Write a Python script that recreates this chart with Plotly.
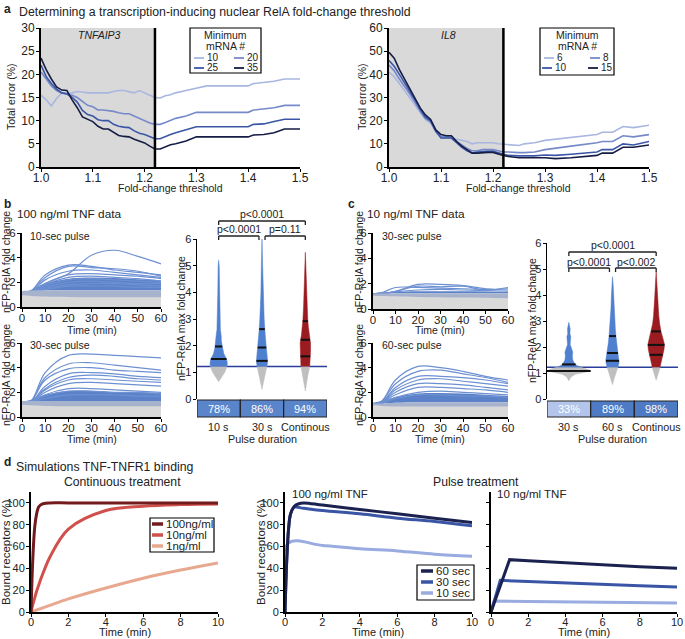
import numpy as np
import plotly.graph_objects as go

W, H = 685, 639
FONT = "Liberation Sans, Arial, sans-serif"

# ---------------- panel a data ----------------
fc_x = [1.00, 1.01, 1.02, 1.03, 1.04, 1.05, 1.06, 1.07, 1.08, 1.09, 1.10, 1.11, 1.12, 1.13, 1.14, 1.15,
        1.16, 1.17, 1.18, 1.19, 1.20, 1.21, 1.22, 1.23, 1.24, 1.25, 1.26, 1.28, 1.30, 1.32, 1.35, 1.40,
        1.41, 1.43, 1.45, 1.47, 1.50]
tnf_10 = [15.5, 14.5, 13.2, 14.8, 16.0, 15.8, 16.0, 16.3, 16.2, 16.0, 16.0, 16.0, 16.0, 16.0, 16.3, 16.5,
          16.5, 16.3, 16.0, 16.5, 16.0, 15.5, 15.0, 14.9, 15.4, 15.6, 16.0, 16.5, 17.0, 17.5, 17.5, 17.5,
          18.0, 18.2, 18.5, 19.0, 19.0]
tnf_20 = [20.5, 19.0, 17.5, 16.5, 16.0, 15.7, 15.5, 15.0, 14.2, 13.3, 13.0, 12.3, 12.3, 12.2, 12.0, 11.7,
          11.5, 11.5, 11.0, 10.5, 10.0, 9.5, 9.2, 9.2, 9.6, 10.0, 10.5, 11.0, 11.8, 11.8, 11.8, 11.8,
          12.3, 12.5, 12.8, 13.3, 13.3]
tnf_25 = [22.0, 19.5, 18.0, 16.8, 16.0, 15.8, 15.0, 14.0, 12.2, 11.3, 11.0, 10.2, 10.0, 10.0, 9.2, 8.8,
          8.6, 8.5, 7.8, 7.3, 7.0, 6.5, 6.1, 6.1, 6.6, 7.0, 7.4, 8.0, 8.7, 8.7, 8.7, 8.7,
          9.2, 9.3, 9.8, 10.3, 10.3]
tnf_35 = [23.5, 21.0, 19.0, 17.3, 16.6, 16.5, 14.5, 12.8, 10.8, 10.3, 9.8, 8.8, 8.2, 8.2, 7.5, 6.8,
          6.6, 6.5, 6.0, 5.6, 5.2, 4.5, 3.9, 3.9, 4.4, 4.8, 5.0, 5.6, 6.5, 6.5, 6.5, 6.5,
          6.9, 7.0, 7.4, 8.2, 8.2]
il8_6 = [41, 39, 36, 33, 30, 27, 23.5, 20.5, 19, 15, 12.5, 12.5, 12.5, 12, 11.5, 11,
         10, 10.5, 10.5, 10.5, 10.5, 10, 9.8, 9.5, 9.2, 9.3, 10, 10.5, 11.5, 12, 13, 14,
         15, 15, 17.5, 17, 18]
il8_8 = [44, 41.5, 38, 35, 31.5, 28, 24, 21, 19.5, 15.5, 13, 13, 13, 11, 9.5, 8,
         7, 7, 7.5, 7.5, 7.5, 7, 6.5, 6.5, 6.2, 6.2, 6.2, 6.5, 7.5, 8, 9, 10.5,
         11, 11, 13.5, 13, 14]
il8_10 = [46, 43.5, 40, 36.5, 32.5, 29, 25, 21.5, 20, 15.5, 12.5, 12.5, 12.5, 10.5, 8.5, 7,
          6, 6.5, 6.8, 6.8, 6.8, 6, 5.5, 5, 4.8, 4.8, 4.8, 4.8, 5.2, 5, 5.5, 6.5,
          7.5, 7.5, 10, 9.5, 11]
il8_15 = [49.5, 47, 42, 38, 34, 30, 25.5, 22.5, 20.5, 16, 14, 13.5, 13.5, 11, 9, 7.5,
          6, 6, 6.3, 6.3, 6.3, 5.5, 5, 4.5, 4.2, 4, 4, 4, 4, 3.6, 4, 5,
          6, 6, 8.5, 8.5, 9.5]
tnf_labels = ["10", "20", "25", "35"]
il8_labels = ["6", "8", "10", "15"]
BLUES4 = ["#a9b7e0", "#7689c9", "#3c56a6", "#161d45"]
THR = 1.22

# ---------------- panels b, c time courses ----------------
T = [0, 4, 10, 20, 30, 40, 50, 60]
b10_traces = [
    [1.0, 1.3, 1.9, 2.7, 4.2, 4.6, 4.1, 3.5],
    [1.0, 1.3, 2.6, 3.4, 3.3, 3.0, 2.8, 2.6],
    [1.0, 1.3, 2.4, 3.3, 3.2, 3.1, 2.9, 2.5],
    [1.0, 1.2, 2.2, 2.9, 3.0, 2.8, 2.6, 2.4],
    [1.0, 1.2, 1.9, 2.6, 2.7, 2.6, 2.5, 2.3],
    [1.0, 1.2, 1.8, 2.4, 2.5, 2.4, 2.3, 2.1],
    [1.0, 1.2, 1.7, 2.2, 2.3, 2.2, 2.1, 2.0],
    [1.0, 1.2, 1.6, 2.0, 2.1, 2.0, 1.9, 1.9],
    [1.0, 1.2, 1.5, 1.8, 1.9, 1.9, 1.8, 1.7],
    [1.0, 1.2, 1.4, 1.7, 1.7, 1.7, 1.6, 1.6],
]
b30_traces = [
    [1.0, 1.3, 3.6, 5.0, 5.1, 5.0, 4.9, 4.8],
    [1.0, 1.3, 3.2, 4.3, 4.4, 4.2, 4.0, 3.8],
    [1.0, 1.3, 3.0, 3.9, 4.0, 3.8, 3.7, 3.6],
    [1.0, 1.2, 2.5, 3.5, 3.6, 3.5, 3.3, 3.2],
    [1.0, 1.2, 2.3, 3.2, 3.4, 3.3, 3.1, 3.0],
    [1.0, 1.2, 2.2, 3.0, 3.1, 3.0, 2.9, 2.8],
    [1.0, 1.2, 2.0, 2.7, 2.8, 2.7, 2.6, 2.5],
    [1.0, 1.2, 1.8, 2.3, 2.3, 2.2, 2.1, 2.0],
    [1.0, 1.2, 1.7, 2.1, 2.1, 2.0, 2.0, 1.9],
    [1.0, 1.2, 1.5, 1.8, 1.8, 1.8, 1.7, 1.7],
]
c30_traces = [
    [1.2, 1.3, 1.7, 1.7, 1.65, 1.6, 1.55, 1.6],
    [1.2, 1.25, 1.4, 1.95, 1.95, 1.85, 1.6, 1.5],
    [1.2, 1.2, 1.4, 1.8, 1.75, 1.8, 1.5, 1.7],
    [1.2, 1.2, 1.35, 1.5, 1.55, 1.5, 1.45, 1.4],
]
c60_traces = [
    [1.0, 1.3, 3.0, 4.1, 4.0, 3.7, 3.3, 3.0],
    [1.0, 1.3, 2.7, 3.7, 3.8, 3.5, 3.2, 2.8],
    [1.0, 1.2, 2.4, 3.3, 3.3, 3.2, 3.0, 2.7],
    [1.0, 1.2, 2.2, 3.0, 3.1, 2.9, 2.7, 2.5],
    [1.0, 1.2, 2.0, 2.7, 2.7, 2.6, 2.4, 2.2],
    [1.0, 1.2, 1.8, 2.4, 2.4, 2.3, 2.2, 2.0],
    [1.0, 1.2, 1.6, 2.0, 2.1, 2.0, 1.9, 1.8],
    [1.0, 1.1, 1.5, 1.8, 1.8, 1.7, 1.7, 1.6],
]
# envelopes (gray non-responders, blue-gray band, dense responder mass)
b10_gray = [0.95, 0.9, 0.85, 0.82, 0.8, 0.8, 0.8, 0.8]
b10_band = [1.3, 1.33, 1.35, 1.35, 1.35, 1.35, 1.35, 1.35]
b10_dense = [1.25, 1.4, 1.9, 2.3, 2.4, 2.35, 2.25, 2.15]
b30_gray = [1.0, 0.95, 0.9, 0.88, 0.88, 0.88, 0.88, 0.88]
b30_band = [1.3, 1.3, 1.3, 1.3, 1.3, 1.3, 1.3, 1.3]
b30_dense = [1.25, 1.4, 1.8, 2.1, 2.1, 2.0, 2.0, 1.9]
c30_gray = [1.05, 1.02, 1.0, 0.95, 0.92, 0.9, 0.88, 0.85]
c30_band = [1.2, 1.22, 1.25, 1.25, 1.25, 1.25, 1.25, 1.25]
c30_dense = [1.25, 1.3, 1.35, 1.4, 1.4, 1.4, 1.38, 1.35]
c60_gray = [0.95, 0.9, 0.85, 0.85, 0.85, 0.85, 0.85, 0.85]
c60_band = [1.1, 1.1, 1.15, 1.2, 1.2, 1.2, 1.2, 1.2]
c60_dense = [1.15, 1.3, 1.6, 1.9, 1.95, 1.9, 1.8, 1.7]

# ---------------- violin profiles (y level, half width) ----------------
b_cats = ["10 s", "30 s", "Continous"]
b_pct = ["78%", "86%", "94%"]
vb1_y = [0.65, 0.8, 1.0, 1.2, 1.35, 1.5, 1.7, 1.9, 2.0, 2.2, 2.35, 2.6, 3.0, 4.0, 5.0, 5.2]
vb1_w = [0, 0.06, 0.14, 0.19, 0.2, 0.18, 0.12, 0.09, 0.08, 0.06, 0.06, 0.04, 0.03, 0.02, 0.012, 0]
vb1_q = [1.5, 1.97]
vb2_y = [0.36, 0.6, 0.9, 1.2, 1.4, 1.6, 1.9, 2.2, 2.6, 3.0, 3.5, 4.0, 5.0, 6.0]
vb2_w = [0, 0.03, 0.07, 0.11, 0.13, 0.12, 0.1, 0.08, 0.065, 0.05, 0.035, 0.025, 0.015, 0]
vb2_q = [1.43, 1.93, 2.62]
vb3_y = [0.3, 0.6, 0.9, 1.2, 1.5, 1.8, 2.1, 2.4, 2.7, 3.0, 3.5, 4.0, 4.5, 5.0, 5.5]
vb3_w = [0, 0.03, 0.06, 0.1, 0.11, 0.12, 0.12, 0.09, 0.07, 0.055, 0.04, 0.03, 0.02, 0.012, 0]
vb3_q = [1.6, 2.22, 2.92]
c_cats = ["30 s", "60 s", "Continous"]
c_pct = ["33%", "89%", "98%"]
vc1_y = [0.7, 0.85, 0.95, 1.02, 1.08, 1.13, 1.2, 1.3, 1.4, 1.5, 1.65, 1.8, 1.95, 2.1, 2.3, 2.4, 2.5, 2.7, 2.95]
vc1_w = [0, 0.05, 0.15, 0.35, 0.5, 0.45, 0.3, 0.17, 0.12, 0.09, 0.08, 0.09, 0.06, 0.03, 0.04, 0.045, 0.025, 0.03, 0]
vc1_q = [1.08, 1.33]
vc2_y = [0.55, 0.8, 1.0, 1.2, 1.4, 1.55, 1.8, 2.1, 2.4, 2.7, 3.0, 3.5, 4.0, 4.4, 4.7]
vc2_w = [0, 0.04, 0.08, 0.12, 0.15, 0.15, 0.12, 0.1, 0.08, 0.065, 0.05, 0.035, 0.025, 0.015, 0]
vc2_q = [1.47, 1.77, 2.42]
vc3_y = [0.72, 0.9, 1.1, 1.3, 1.5, 1.7, 1.9, 2.1, 2.3, 2.6, 2.9, 3.2, 3.6, 4.0, 4.5, 4.9]
vc3_w = [0, 0.04, 0.07, 0.1, 0.13, 0.15, 0.18, 0.19, 0.16, 0.11, 0.08, 0.06, 0.04, 0.03, 0.015, 0]
vc3_q = [1.7, 2.08, 2.6]

# ---------------- panel d simulations ----------------
d_t = [0, 0.1, 0.2, 0.3, 0.4, 0.5, 0.7, 1, 2, 4, 6, 8, 10]
d_100 = [0, 50, 78, 90, 96, 98, 99.5, 100, 100, 100, 100, 100, 100]
d_10 = [0, 7, 13, 19, 24, 29, 38, 50, 76, 93, 97, 98.5, 99]
d_1 = [0, 0.6, 1.2, 1.8, 2.4, 3, 4.2, 6, 12, 22, 31, 38.5, 45]
cont_labels = ["100ng/ml", "10ng/ml", "1ng/ml"]
REDS = ["#741b1e", "#d0514c", "#e8a890"]
p100_t60 = [0, 0.1, 0.2, 0.3, 0.5, 0.7, 1, 2, 4, 6, 8, 10]
p100_60 = [0, 50, 78, 90, 97, 99, 100, 98, 94, 90, 86, 82]
p100_t30 = [0, 0.1, 0.2, 0.3, 0.5, 1, 2, 4, 6, 8, 10]
p100_30 = [0, 50, 78, 90, 96, 95, 93, 90, 86, 83, 79]
p100_t10 = [0, 0.17, 2, 4, 6, 8, 10]
p100_10 = [0, 63, 61, 58, 56, 53, 51]
p10_t60 = [0, 1, 2, 4, 6, 8, 10]
p10_60 = [0, 48, 47, 45, 43, 41.5, 40]
p10_t30 = [0, 0.5, 2, 4, 6, 8, 10]
p10_30 = [0, 29, 28, 26.5, 25, 24, 23]
p10_t10 = [0, 0.17, 2, 4, 6, 8, 10]
p10_10 = [0, 10, 9.7, 9.3, 9, 8.6, 8.3]
pulse_labels = ["60 sec", "30 sec", "10 sec"]
PBLUES = ["#1b2250", "#3a55a6", "#9aabe0"]

VBLUE = "#4f7fcf"
VRED = "#9a1c20"
VGRAY = "#bfbfbf"
TRACE = "#6d90d2"

fig = go.Figure()


def ref(i):
    return ("x", "y") if i == 1 else (f"x{i}", f"y{i}")


def px(x):
    return x / W


def py(y):
    return 1 - y / H


axes = {}


def add_axes(i, xd, yd, xr, yr, xk=None, yk=None, lw=1.5, tsize=12):
    xk = xk or {}
    yk = yk or {}
    xa, ya = ref(i)
    base = dict(showgrid=False, zeroline=False, showline=True, linecolor="black", linewidth=lw,
                ticks="outside", ticklen=3, tickwidth=1, tickcolor="black", automargin=False,
                tickfont=dict(family=FONT, size=tsize, color="#222"))
    xd_ = dict(base, domain=[px(xd[0]), px(xd[1])], range=xr, anchor=ya, ticklabelstandoff=-4)
    xd_.update(xk)
    yd_ = dict(base, domain=[py(yd[1]), py(yd[0])], range=yr, anchor=xa, ticklabelstandoff=-1)
    yd_.update(yk)
    axes["xaxis" if i == 1 else f"xaxis{i}"] = xd_
    axes["yaxis" if i == 1 else f"yaxis{i}"] = yd_


def line(i, x, y, color, width=1.5, shape="linear"):
    xa, ya = ref(i)
    fig.add_trace(go.Scatter(x=x, y=y, mode="lines", xaxis=xa, yaxis=ya, showlegend=False,
                             hoverinfo="skip", line=dict(color=color, width=width, shape=shape)))


anns = []
shapes = []


def text(x, y, s, size=12, xanchor="center", angle=0, color="#222", bold=False, italic=False):
    if bold:
        s = f"<b>{s}</b>"
    if italic:
        s = f"<i>{s}</i>"
    anns.append(dict(x=px(x), y=py(y), xref="paper", yref="paper", text=s, showarrow=False,
                     xanchor=xanchor, yanchor="middle", textangle=angle,
                     font=dict(family=FONT, size=size, color=color)))


def pline(x0, y0, x1, y1, color="black", width=1.2):
    shapes.append(dict(type="line", xref="paper", yref="paper", x0=px(x0), y0=py(y0), x1=px(x1),
                       y1=py(y1), line=dict(color=color, width=width)))


def prect(x0, y0, x1, y1, fill="rgba(0,0,0,0)", lc="black", lw=1):
    shapes.append(dict(type="rect", xref="paper", yref="paper", x0=px(x0), y0=py(y1), x1=px(x1),
                       y1=py(y0), fillcolor=fill, line=dict(color=lc, width=lw)))


# ================= panel a =================
text(2, 9, "a", size=12, xanchor="left", bold=True)
text(17, 12, "Determining a transcription-inducing nuclear RelA fold-change threshold", size=12.3, xanchor="left")
fc_ticks = dict(tickvals=[1.0, 1.1, 1.2, 1.3, 1.4, 1.5], ticktext=["1.0", "1.1", "1.2", "1.3", "1.4", "1.5"])
add_axes(1, (41, 300), (28, 167), [1.0, 1.5], [0, 30], fc_ticks, dict(tickvals=[0, 5, 10, 15, 20, 25, 30]), lw=2)
add_axes(2, (389, 649), (28, 167), [1.0, 1.5], [0, 60], fc_ticks, dict(tickvals=[0, 10, 20, 30, 40, 50, 60]), lw=2)
for i, ymax in [(1, 30), (2, 60)]:
    xa, ya = ref(i)
    shapes.append(dict(type="rect", xref=xa, yref=ya, x0=1.0, x1=THR, y0=0, y1=ymax,
                       fillcolor="#d9d9d9", line=dict(width=0), layer="below"))
    shapes.append(dict(type="line", xref=xa, yref=ya, x0=THR, x1=THR, y0=0, y1=ymax,
                       line=dict(color="black", width=2.5)))
for ser, c in zip([tnf_10, tnf_20, tnf_25, tnf_35], BLUES4):
    line(1, fc_x, ser, c, 1.6)
for ser, c in zip([il8_6, il8_8, il8_10, il8_15], BLUES4):
    line(2, fc_x, ser, c, 1.6)
text(100, 35, "TNFAIP3", size=10.5, italic=True)
text(448, 35, "IL8", size=10.5, italic=True)
for (bx0, bx1, by1, labs, cols, offs) in [
        (190, 261, 73, tnf_labels, BLUES4, [(194, 58), (234, 58), (194, 68), (234, 68)]),
        (540, 614, 75, il8_labels, BLUES4, [(544, 58), (590, 58), (542, 68), (588, 68)])]:
    prect(bx0, 28, bx1, by1, lw=1.2)
    cx = (bx0 + bx1) / 2
    text(cx, 35, "Minimum", size=10.5)
    text(cx, 46, "mRNA #", size=10.5)
    for lab, c, (lx, ly) in zip(labs, cols, offs):
        pline(lx, ly, lx + 10, ly, color=c, width=1.8)
        text(lx + 11, ly, lab, size=10, xanchor="left")
text(170, 188.5, "Fold-change threshold", size=10.5)
text(518, 188.5, "Fold-change threshold", size=10.5)
text(11, 97, "Total error (%)", size=10.5, angle=-90)
text(362, 97, "Total error (%)", size=10.5, angle=-90)

# ================= time-course panels =================
tc_x = dict(tickvals=[0, 10, 20, 30, 40, 50, 60])
tc_y = dict(tickvals=[0, 2, 4, 6])


def tc_panel(i, traces, gray, band, dense):
    xa, ya = ref(i)
    kw = dict(xaxis=xa, yaxis=ya, showlegend=False, hoverinfo="skip", mode="lines")
    fig.add_trace(go.Scatter(x=T, y=band, line=dict(width=0, shape="spline"), **kw))
    fig.add_trace(go.Scatter(x=T, y=dense, fill="tonexty", fillcolor="#5b82c8",
                             line=dict(width=0, shape="spline"), **kw))
    for tr in traces:
        line(i, T, tr, TRACE, 1.2, "spline")
    fig.add_trace(go.Scatter(x=T, y=band, fill="tozeroy", fillcolor="#a7b2cd",
                             line=dict(width=0, shape="spline"), **kw))
    fig.add_trace(go.Scatter(x=T, y=gray, fill="tozeroy", fillcolor="#d9d9d9",
                             line=dict(width=0, shape="spline"), **kw))


add_axes(3, (22, 161), (233, 307), [0, 60], [0, 6], tc_x, tc_y, lw=2, tsize=11.5)
add_axes(4, (22, 161), (343, 417), [0, 60], [0, 6], tc_x, tc_y, lw=2, tsize=11.5)
add_axes(6, (373, 508), (233, 309), [0, 60], [0, 6], tc_x, tc_y, lw=2, tsize=11.5)
add_axes(7, (373, 508), (343, 417), [0, 60], [0, 6], tc_x, tc_y, lw=2, tsize=11.5)
tc_panel(3, b10_traces, b10_gray, b10_band, b10_dense)
tc_panel(4, b30_traces, b30_gray, b30_band, b30_dense)
tc_panel(6, c30_traces, c30_gray, c30_band, c30_dense)
tc_panel(7, c60_traces, c60_gray, c60_band, c60_dense)

text(2, 204, "b", size=12, xanchor="left", bold=True)
text(15, 214, "100 ng/ml TNF data", size=11.8, xanchor="left")
text(28, 236, "10-sec pulse", size=10.5, xanchor="left")
text(28, 345, "30-sec pulse", size=10.5, xanchor="left")
text(92, 330, "Time (min)", size=10.5)
text(92, 439, "Time (min)", size=10.5)
text(6, 262, "nFP-RelA fold change", size=10.5, angle=-90)
text(6, 375, "nFP-RelA fold change", size=10.5, angle=-90)

text(346, 204, "c", size=12, xanchor="left", bold=True)
text(365, 214, "10 ng/ml TNF data", size=11.8, xanchor="left")
text(380, 236, "30-sec pulse", size=10.5, xanchor="left")
text(380, 345, "60-sec pulse", size=10.5, xanchor="left")
text(440, 330, "Time (min)", size=10.5)
text(440, 439, "Time (min)", size=10.5)
text(359, 262, "nFP-RelA fold change", size=10.5, angle=-90)
text(359, 375, "nFP-RelA fold change", size=10.5, angle=-90)

# ================= violins =================
vx = dict(showline=False, ticks="", showticklabels=False)
vy = dict(tickvals=[0, 1, 2, 3, 4, 5, 6])
add_axes(5, (197, 327), (239, 399), [0.5, 3.5], [0, 6], vx, vy, tsize=11)
add_axes(8, (547, 678), (243, 399), [0.5, 3.5], [0, 6], vx, vy, tsize=11)


def violin(i, xc, ys, ws, qs, color):
    xa, ya = ref(i)
    ys = np.asarray(ys, float)
    ws = np.asarray(ws, float)
    wt = np.interp(THR, ys, ws)
    up = ys > THR
    lo = ys < THR
    parts = [(np.r_[ys[lo], THR], np.r_[ws[lo], wt], VGRAY), (np.r_[THR, ys[up]], np.r_[wt, ws[up]], color)]
    for yy, ww, c in parts:
        fig.add_trace(go.Scatter(x=np.r_[xc - ww, (xc + ww)[::-1]], y=np.r_[yy, yy[::-1]], fill="toself",
                                 fillcolor=c, mode="lines", line=dict(width=0.5, color=c), xaxis=xa, yaxis=ya,
                                 showlegend=False, hoverinfo="skip"))
    for q in qs:
        w = np.interp(q, ys, ws)
        line(i, [xc - w, xc + w], [q, q], "#111", 2)


for i in (5, 8):
    line(i, [0.5, 3.5], [THR, THR], "#2a3f9a", 1.5)
violin(5, 1, vb1_y, vb1_w, vb1_q, VBLUE)
violin(5, 2, vb2_y, vb2_w, vb2_q, VBLUE)
violin(5, 3, vb3_y, vb3_w, vb3_q, VRED)
violin(8, 1, vc1_y, vc1_w, vc1_q, VBLUE)
violin(8, 2, vc2_y, vc2_w, vc2_q, VBLUE)
violin(8, 3, vc3_y, vc3_w, vc3_q, VRED)

# percentage boxes
for i, pcts, fills, top in [(5, b_pct, ["#5a85cb"] * 3, 400), (8, c_pct, ["#b3c5ea", "#4f7bc5", "#4f7bc5"], 401)]:
    xa, ya = ref(i)
    for k, (p, f) in enumerate(zip(pcts, fills)):
        shapes.append(dict(type="rect", xref=xa, yref="paper", x0=k + 0.5, x1=k + 1.5, y0=py(417), y1=py(top),
                           fillcolor=f, line=dict(color="#222", width=1.2)))
        anns.append(dict(x=k + 1, y=py((top + 417) / 2), xref=xa, yref="paper", text=p, showarrow=False,
                         font=dict(family=FONT, size=11, color="white")))
for i, cats in [(5, b_cats), (8, c_cats)]:
    xa, ya = ref(i)
    for k, c in enumerate(cats):
        anns.append(dict(x=k + 1, y=py(427), xref=xa, yref="paper", text=c, showarrow=False,
                         yanchor="middle", font=dict(family=FONT, size=10.8, color="#222")))
text(262, 439, "Pulse duration", size=10.8)
text(612, 439, "Pulse duration", size=10.8)
text(181, 319, "nFP-RelA max fold change", size=10.5, angle=-90)
text(532, 321, "nFP-RelA max fold change", size=10.5, angle=-90)


def bracket(i, x0, x1, yline, ytxt, label):
    xa, ya = ref(i)
    for (a, b_, c, d) in [(x0, yline, x1, yline), (x0, yline, x0, yline + 4), (x1, yline, x1, yline + 4)]:
        shapes.append(dict(type="line", xref=xa, yref="paper", x0=a, x1=c, y0=py(b_), y1=py(d),
                           line=dict(color="#222", width=1.3)))
    anns.append(dict(x=(x0 + x1) / 2, y=py(ytxt), xref=xa, yref="paper", text=label, showarrow=False,
                     yanchor="middle", font=dict(family=FONT, size=10.5, color="#222")))


bracket(5, 1, 3, 221, 213.5, "p<0.0001")
bracket(5, 1, 1.93, 236, 229.5, "p<0.0001")
bracket(5, 2.07, 3, 236, 229.5, "p=0.11")
bracket(8, 1, 3, 252, 244.5, "p<0.0001")
bracket(8, 1, 1.93, 268, 261.5, "p<0.0001")
bracket(8, 2.07, 3, 268, 261.5, "p<0.002")

# ================= panel d =================
d_x = dict(tickvals=[0, 2, 4, 6, 8, 10])
d_y = dict(tickvals=[0, 20, 40, 60, 80, 100])
add_axes(9, (31, 218), (492, 612), [0, 10], [0, 110], d_x, d_y, lw=2, tsize=11)
add_axes(10, (285, 472), (492, 612), [0, 10], [0, 110], d_x, d_y, lw=2, tsize=11)
add_axes(11, (491, 677), (492, 612), [0, 10], [0, 110], d_x, dict(d_y, showticklabels=False), lw=2, tsize=11)
for ser, c in zip([d_1, d_10, d_100], REDS[::-1]):
    line(9, d_t, ser, c, 3, "spline")
line(10, p100_t10, p100_10, PBLUES[2], 3, "spline")
line(10, p100_t30, p100_30, PBLUES[1], 3, "spline")
line(10, p100_t60, p100_60, PBLUES[0], 3, "spline")
line(11, p10_t10, p10_10, PBLUES[2], 3)
line(11, p10_t30, p10_30, PBLUES[1], 3)
line(11, p10_t60, p10_60, PBLUES[0], 3)

text(2, 462, "d", size=12, xanchor="left", bold=True)
text(14, 467, "Simulations TNF-TNFR1 binding", size=12.3, xanchor="left")
text(122, 482, "Continuous treatment", size=12.2)
text(476, 482, "Pulse treatment", size=12.2)
text(290, 494, "100 ng/ml TNF", size=11.5, xanchor="left")
text(495, 494, "10 ng/ml TNF", size=11.5, xanchor="left")
text(6, 552, "Bound receptors (%)", size=11.5, angle=-90)
text(261, 552, "Bound receptors (%)", size=11.5, angle=-90)
text(125, 632, "Time (min)", size=11)
text(378, 632, "Time (min)", size=11)
text(584, 632, "Time (min)", size=11)

prect(150, 518, 214, 552, lw=1.2)
for lab, c, ly in zip(cont_labels, REDS, [524, 535, 546]):
    pline(152, ly, 163, ly, color=c, width=3.5)
    text(164, ly, lab, size=11.5, xanchor="left")
prect(417, 565, 474, 600, lw=1.2)
for lab, c, ly in zip(pulse_labels, PBLUES, [571, 582, 593]):
    pline(421, ly, 433, ly, color=c, width=3.5)
    text(434, ly, lab, size=11.5, xanchor="left")

fig.update_layout(width=W, height=H, margin=dict(l=0, r=0, t=0, b=0, pad=0, autoexpand=False),
                  plot_bgcolor="white", paper_bgcolor="white", showlegend=False,
                  annotations=anns, shapes=shapes,
                  font=dict(family=FONT, size=12, color="#222"), **axes)
fig.write_html("out.html", config={"displayModeBar": False, "staticPlot": True},
               post_script="document.body.style.margin='0px';document.body.style.padding='0px';")
